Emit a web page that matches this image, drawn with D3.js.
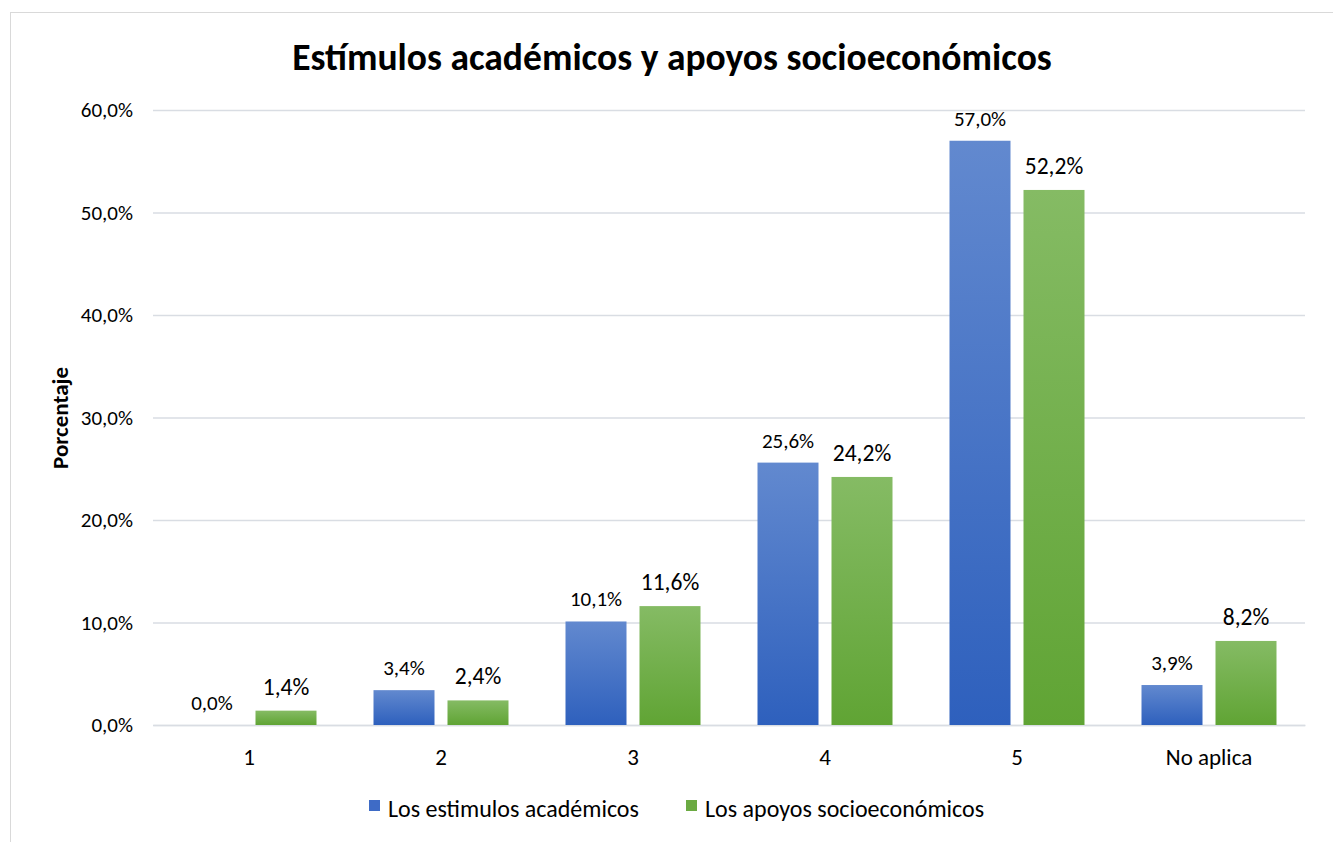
<!DOCTYPE html>
<html><head><meta charset="utf-8">
<script src="https://cdn.jsdelivr.net/npm/d3@7"></script>
<style>body{margin:0;background:#fff}svg{display:block}</style>
</head><body>
<svg id="c" width="1333" height="842"></svg>
<script>
const categories = ["1","2","3","4","5","No aplica"];
const seriesNames = ["Los estimulos académicos","Los apoyos socioeconómicos"];
const academicos = [0.0, 3.4, 10.1, 25.6, 57.0, 3.9];
const socioeconomicos = [1.4, 2.4, 11.6, 24.2, 52.2, 8.2];
const yTicks = [0,10,20,30,40,50,60];

(function(){
const font = "Carlito, Calibri, 'Noto Sans', sans-serif";
const svg = d3.select("#c");
const defs = svg.append("defs");
function grad(id, t, b){
  const g = defs.append("linearGradient").attr("id",id).attr("x1",0).attr("y1",0).attr("x2",0).attr("y2",1);
  g.append("stop").attr("offset","0%").attr("stop-color",t);
  g.append("stop").attr("offset","100%").attr("stop-color",b);
}
grad("gb","#6289CF","#2E60BD");
grad("gg","#85BB64","#60A434");

svg.append("rect").attr("x",10.5).attr("y",12.5).attr("width",1340).attr("height",840)
  .attr("fill","#fff").attr("stroke","#d9d9d9");

const pl=153, pr=1305, pt=110, pb=725;
const x = d3.scaleBand().domain(categories).range([pl,pr]);
const y = d3.scaleLinear().domain([0,60]).range([pb,pt]);

svg.append("text").attr("x",672).attr("y",70).attr("text-anchor","middle")
  .attr("font-family",font).attr("font-weight","bold").attr("font-size",37.5).attr("fill","#000")
  .text("Estímulos académicos y apoyos socioeconómicos");

const gy = svg.append("g").attr("transform",`translate(${pl},0)`)
  .call(d3.axisLeft(y).tickValues(yTicks).tickSize(-(pr-pl)).tickFormat(d=>d.toFixed(1).replace(".",",")+"%"));
gy.select(".domain").remove();
gy.selectAll(".tick line").attr("stroke","#d9dde3").attr("stroke-width",1.3);
gy.selectAll(".tick text").attr("x",-20).attr("font-family",font).attr("font-size",21).attr("fill","#000");

svg.append("text").attr("transform","translate(68,418) rotate(-90)").attr("text-anchor","middle")
  .attr("font-family",font).attr("font-weight","bold").attr("font-size",23).text("Porcentaje");

const gx = svg.append("g").attr("transform",`translate(0,${pb})`)
  .call(d3.axisBottom(x).tickSize(0).tickPadding(24));
gx.select(".domain").attr("stroke","#d9dde3").attr("stroke-width",1.3);
gx.selectAll(".tick text").attr("font-family",font).attr("font-size",23).attr("fill","#000");

const bw = 61, off = 37;
const series = [
  {vals:academicos, fill:"url(#gb)", dx:-off, fs:21, gap:15},
  {vals:socioeconomicos, fill:"url(#gg)", dx:off, fs:23.5, gap:16}
];
series.forEach(s=>{
  const g = svg.append("g");
  g.selectAll("rect").data(categories).join("rect")
    .attr("x",(c)=>x(c)+x.bandwidth()/2+s.dx-bw/2)
    .attr("width",bw)
    .attr("y",(c,i)=>y(s.vals[i]))
    .attr("height",(c,i)=>pb-y(s.vals[i]))
    .attr("fill",s.fill);
  g.selectAll("text").data(categories).join("text")
    .attr("x",(c)=>x(c)+x.bandwidth()/2+s.dx)
    .attr("y",(c,i)=>y(s.vals[i])-s.gap)
    .attr("text-anchor","middle")
    .attr("font-family",font).attr("font-size",s.fs).attr("fill","#000")
    .text((c,i)=>s.vals[i].toFixed(1).replace(".",",")+"%");
});

const leg = [{name:seriesNames[0],color:"#3E6BC6",x:369},{name:seriesNames[1],color:"#6BAA42",x:686}];
leg.forEach(l=>{
  svg.append("rect").attr("x",l.x).attr("y",800).attr("width",11).attr("height",11).attr("fill",l.color);
  svg.append("text").attr("x",l.x+19).attr("y",817).attr("font-family",font).attr("font-size",24).attr("fill","#000").text(l.name);
});
})();
</script>
</body></html>
